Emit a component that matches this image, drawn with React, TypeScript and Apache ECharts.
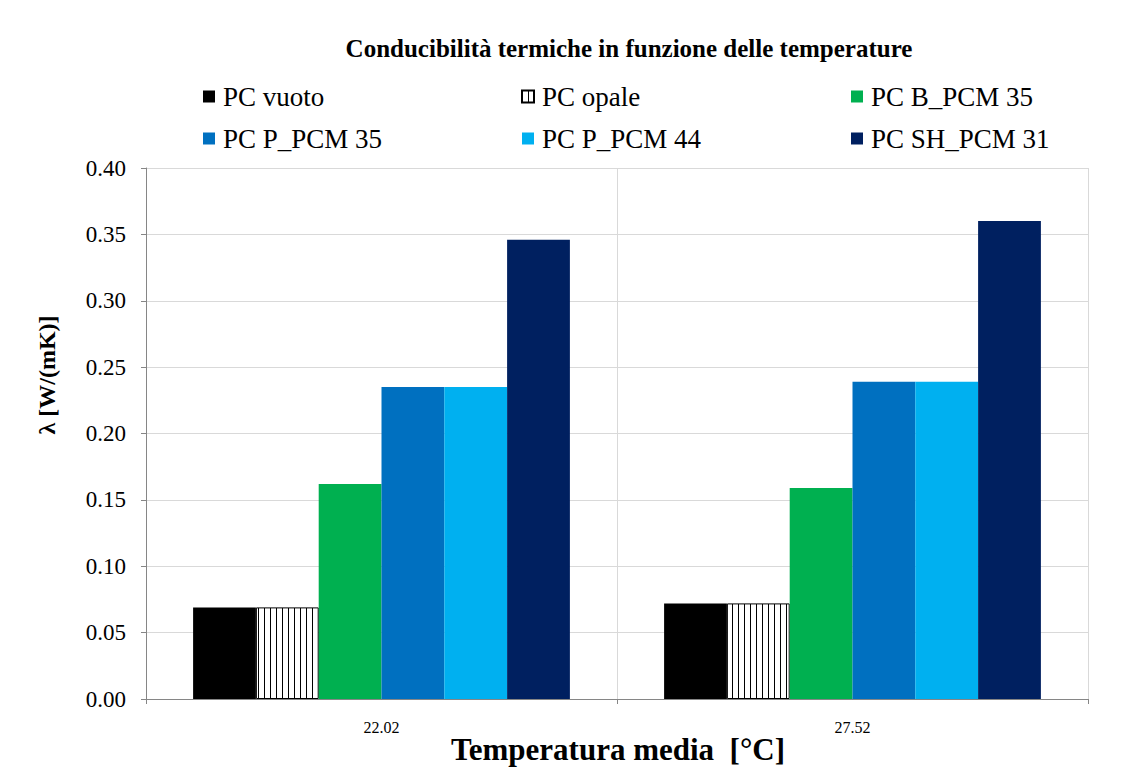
import React, { useEffect, useRef } from "react";
import * as echarts from "echarts";

const categories = ["22.02", "27.52"];
const seriesNames = [
  "PC vuoto",
  "PC opale",
  "PC B_PCM 35",
  "PC P_PCM 35",
  "PC P_PCM 44",
  "PC SH_PCM 31",
];
const pcVuoto = [0.069, 0.072];
const pcOpale = [0.069, 0.072];
const pcBPcm35 = [0.162, 0.159];
const pcPPcm35 = [0.235, 0.239];
const pcPPcm44 = [0.235, 0.239];
const pcShPcm31 = [0.346, 0.36];
const seriesValues = [pcVuoto, pcOpale, pcBPcm35, pcPPcm35, pcPPcm44, pcShPcm31];
const yTicks = { min: 0, max: 0.4, interval: 0.05 };

const titleText = "Conducibilità termiche in funzione delle temperature";
const yName = "λ [W/(mK)]";
const xName = "Temperatura media  [°C]";

const colors = ["#000000", "pattern", "#00b050", "#0070c0", "#00b0f0", "#002060"];
const serif = "Liberation Serif";

function makeStripe() {
  const c = document.createElement("canvas");
  c.width = 6;
  c.height = 10;
  const ctx = c.getContext("2d")!;
  ctx.fillStyle = "#ffffff";
  ctx.fillRect(0, 0, 6, 10);
  ctx.fillStyle = "#000000";
  ctx.fillRect(0, 0, 1, 10);
  return c;
}

export default function App() {
  const ref = useRef<HTMLDivElement>(null);
  useEffect(() => {
    document.body.style.margin = "0";
    const chart = echarts.init(ref.current!, null, { renderer: "svg" });
    const stripe = { image: makeStripe(), repeat: "repeat" } as any;
    const series = seriesNames.map((name, i) => ({
      name,
      type: "bar",
      data: seriesValues[i],
      barGap: "0%",
      barCategoryGap: "20%",
      itemStyle:
        colors[i] === "pattern"
          ? { color: stripe, borderColor: "#000", borderWidth: 1 }
          : { color: colors[i] },
    }));
    const legendText = { fontFamily: serif, fontSize: 27, color: "#000", padding: [0, 0, 0, 3] };
    const legendCommon = {
      orient: "vertical",
      top: 83,
      padding: 0,
      itemWidth: 12,
      itemHeight: 12,
      itemGap: 15,
      icon: "rect",
      textStyle: legendText,
    };
    const mkData = (names: string[]) => names.map((n) => ({ name: n, textStyle: legendText }));
    chart.setOption({
      animation: false,
      backgroundColor: "#ffffff",
      textStyle: { fontFamily: serif },
      legend: [
        { ...legendCommon, left: 203, data: mkData([seriesNames[0], seriesNames[3]]) },
        { ...legendCommon, left: 521, data: mkData([seriesNames[1], seriesNames[4]]) },
        { ...legendCommon, left: 851, data: mkData([seriesNames[2], seriesNames[5]]) },
      ],
      grid: { left: 146, right: 44, top: 168, bottom: 68, outerBoundsMode: "none", containLabel: false },
      xAxis: {
        type: "category",
        data: categories,
        axisLine: { lineStyle: { color: "#868686" } },
        axisTick: { show: true, length: 5, lineStyle: { color: "#868686" } },
        splitLine: { show: true, lineStyle: { color: "#d9d9d9" } },
        axisLabel: { fontFamily: serif, fontSize: 16, color: "#000", margin: 20 },
      },
      yAxis: {
        type: "value",
        min: yTicks.min,
        max: yTicks.max,
        interval: yTicks.interval,
        axisLine: { show: true, lineStyle: { color: "#868686" } },
        axisTick: { show: true, length: 5, lineStyle: { color: "#868686" } },
        splitLine: { show: true, lineStyle: { color: "#d9d9d9" } },
        axisLabel: {
          fontFamily: serif,
          fontSize: 23,
          color: "#000",
          margin: 20,
          formatter: (v: number) => v.toFixed(2),
        },
      },
      graphic: [
        {
          type: "text",
          x: 629,
          y: 48,
          style: {
            text: titleText,
            fontFamily: serif,
            fontSize: 25,
            fontWeight: "bold",
            fill: "#000",
            align: "center",
            verticalAlign: "middle",
          },
        },
        {
          type: "text",
          x: 618,
          y: 749,
          style: {
            text: xName,
            fontFamily: serif,
            fontSize: 31,
            fontWeight: "bold",
            fill: "#000",
            align: "center",
            verticalAlign: "middle",
          },
        },
        {
          type: "text",
          x: 47,
          y: 375,
          rotation: Math.PI / 2,
          style: {
            text: yName,
            fontFamily: serif,
            fontSize: 24,
            fontWeight: "bold",
            fill: "#000",
            align: "center",
            verticalAlign: "middle",
          },
        },
      ],
      series,
    });
    return () => chart.dispose();
  }, []);
  return (
    <div
      ref={ref}
      style={{ position: "absolute", left: 0, top: 0, width: 1132, height: 767 }}
    />
  );
}
